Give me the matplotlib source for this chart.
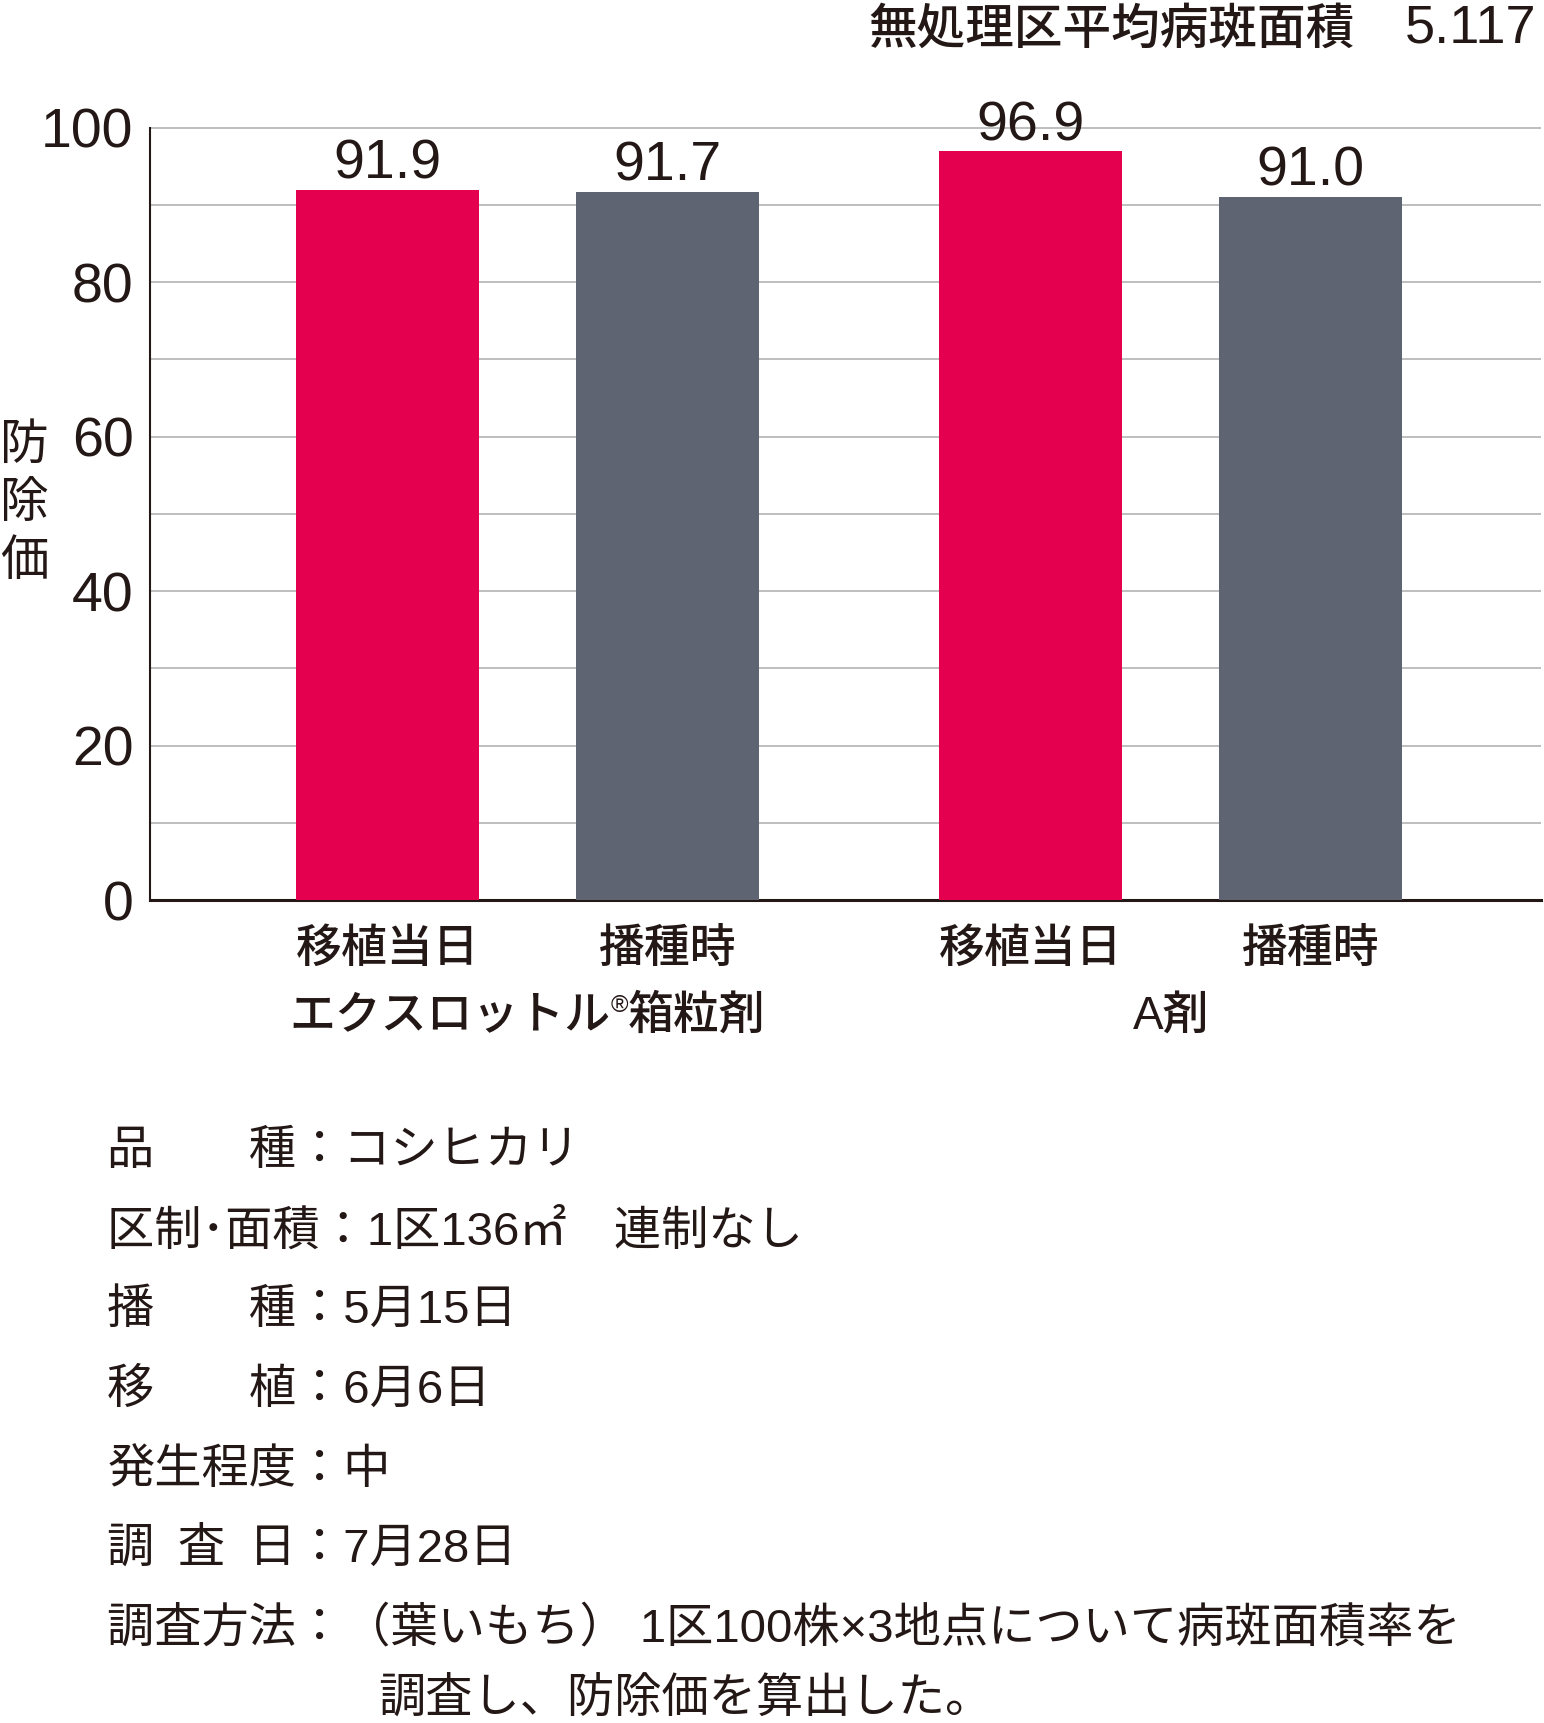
import numpy as np
import matplotlib
matplotlib.use('Agg')
import matplotlib.pyplot as plt

plt.rcParams['font.family'] = ['Noto Sans CJK JP', 'DejaVu Sans']

# データ
groups = [['エクスロットル', '®', '箱粒剤'], ['A剤']]
timings = ['移植当日', '播種時']
values_exlot = [91.9, 91.7]
values_a = [96.9, 91.0]
bar_colors = ['#E4004F', '#5E6471']

summary_label = '無処理区平均病斑面積'
summary_value = '5.117'
ylabel_chars = ['防', '除', '価']
y_ticks = [0, 20, 40, 60, 80, 100]
grid_levels = np.arange(10, 101, 10)

note_lines = [
    '品　　種：コシヒカリ',
    '区制･面積：1区136㎡　連制なし',
    '播　　種：5月15日',
    '移　　植：6月6日',
    '発生程度：中',
    '調\u2002査\u2002日：7月28日',
    '調査方法：（葉いもち） 1区100株×3地点について病斑面積率を',
    '調査し、防除価を算出した。',
]

txt = '#231815'
num_font = ['Liberation Sans', 'Noto Sans CJK JP', 'DejaVu Sans']

fig = plt.figure(figsize=(15.44, 17.23), dpi=100)
ax = fig.add_axes([0.0973, 0.4775, 0.9007, 0.4485])

# 棒の位置 (グループ間を少し空ける)
group_gap = 1.3
values = [values_exlot, values_a]
positions = []
for g, vals in enumerate(values):
    for i, v in enumerate(vals):
        x = g * (1 + group_gap) + i
        positions.append(x)
        ax.bar(x, v, width=0.655, color=bar_colors[i], zorder=3)
        ax.annotate(f'{v:.1f}', (x, v), xytext=(0, 8), textcoords='offset points',
                    ha='center', va='baseline', fontsize=40, color=txt,
                    family=num_font, zorder=4)

ax.set_xlim(-0.849, 4.124)
ax.set_ylim(0, 100)
ax.set_yticks(y_ticks)
ax.set_yticklabels([str(t) for t in y_ticks], family=num_font, fontsize=40, color=txt)
ax.tick_params(axis='y', which='both', length=0, pad=12)
ax.set_xticks([])
# 目盛線 (10刻み)
ax.hlines(grid_levels, -0.849, 4.124, colors='#B3B3B3', linewidth=1.2,
          zorder=1, clip_on=False)

for s in ['top', 'right']:
    ax.spines[s].set_visible(False)
ax.spines['left'].set_linewidth(1.5)
ax.spines['left'].set_color(txt)
ax.spines['bottom'].set_linewidth(2.2)
ax.spines['bottom'].set_color(txt)

# カテゴリラベル
tr = ax.get_xaxis_transform()
for x, lab in zip(positions, timings * len(groups)):
    ax.text(x, -0.062, lab, transform=tr, ha='center', va='center',
            fontsize=33, fontweight='medium', color=txt)

# 薬剤名 (®は小さく上付き)
renderer = fig.canvas.get_renderer()
for g, parts in enumerate(groups):
    gx = np.mean(positions[2 * g:2 * g + 2])
    objs = []
    for p in parts:
        small = p == '®'
        t = ax.annotate(p, (gx, -0.166), xycoords=tr, xytext=(0, 0),
                        textcoords='offset pixels', ha='left', va='baseline',
                        fontsize=17 if small else 33, fontweight='medium',
                        color=txt, family=num_font)
        objs.append((t, small))
    widths = [t.get_window_extent(renderer).width for t, _ in objs]
    cur = -sum(widths) / 2
    for (t, small), w in zip(objs, widths):
        t.set_position((cur, 17 if small else 0))
        cur += w

# 縦書きの軸ラベル
for k, ch in enumerate(ylabel_chars):
    fig.text(0.0156, 0.7415 - k * 0.0335, ch, ha='center', va='center',
             fontsize=35, color=txt)

fig.text(0.877, 0.983, summary_label, ha='right', va='center', fontsize=35,
         fontweight='medium', color=txt)
fig.text(0.995, 0.9835, summary_value, ha='right', va='center', fontsize=39,
         color=txt, family=num_font)

# 試験条件
note_y = [1152, 1232, 1311, 1391, 1471, 1550, 1629, 1700]
for k, line in enumerate(note_lines):
    x0 = 0.245 if k == len(note_lines) - 1 else 0.0696
    fig.text(x0, 1 - note_y[k] / 1723, line, ha='left', va='center',
             fontsize=34, color=txt, family=num_font)

fig.savefig('out.png', dpi=100)
